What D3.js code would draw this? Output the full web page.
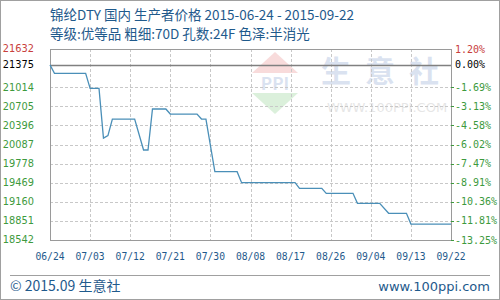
<!DOCTYPE html>
<html>
<head>
<meta charset="utf-8">
<script src="https://d3js.org/d3.v7.min.js"></script>
<style>
    body { margin: 0; background: #fff; }
    svg { display: block; font-family: "Noto Sans CJK SC", "DejaVu Sans", sans-serif; }
    .grid line { stroke: #c8c8c8; stroke-dasharray: 3,2; }
</style>
</head>
<body>
<svg id="chart" width="500" height="300"></svg>
<script>
// prijsreeks: alleen de knikpunten van de lijn
const dates = ['2015-06-24', '2015-06-25', '2015-07-02', '2015-07-03', '2015-07-05', '2015-07-06',
    '2015-07-07', '2015-07-08', '2015-07-13', '2015-07-15', '2015-07-16', '2015-07-17',
    '2015-07-20', '2015-07-21', '2015-07-27', '2015-07-28', '2015-07-29', '2015-07-31',
    '2015-08-05', '2015-08-06', '2015-08-18', '2015-08-19', '2015-08-24', '2015-08-25',
    '2015-08-31', '2015-09-01', '2015-09-06', '2015-09-08', '2015-09-12', '2015-09-13',
    '2015-09-22'];
const prices = [21375, 21239, 21239, 20995, 20995, 20190,
    20230, 20499, 20499, 19998, 19998, 20661,
    20661, 20580, 20580, 20499, 20499, 19647,
    19647, 19469, 19469, 19378, 19378, 19297,
    19297, 19135, 19135, 18974, 18974, 18800,
    18800];

const yTicks = [21632, 21014, 20705, 20396, 20087, 19778, 19469, 19160, 18851, 18542];
const baseValue = 21375;
// procentlabels rechts, zoals ze op het origineel staan
const pctLabels = ['1.20%', '0.00%', '-1.69%', '-3.13%', '-4.58%', '-6.02%', '-7.47%',
    '-8.91%', '-10.36%', '-11.81%', '-13.25%'];
const xTickDates = ['2015-06-24', '2015-07-03', '2015-07-12', '2015-07-21', '2015-07-30', '2015-08-08',
    '2015-08-17', '2015-08-26', '2015-09-04', '2015-09-13', '2015-09-22'];

const title1 = '锦纶DTY 国内 生产者价格 2015-06-24 - 2015-09-22';
const title2 = '等级:优等品 粗细:70D 孔数:24F 色泽:半消光';

const config = {
    left: 50, right: 451, top: 49, bottom: 240,
    blue: '#1f5a8c', line: '#4a8fb8', red: '#c8403c', green: '#3d9a3d',
}

const parse = d3.timeParse('%Y-%m-%d');
let data = dates.map((d, i) => ({date: parse(d), value: prices[i]}));

let svg = d3.select('svg#chart');

const x = d3.scaleTime()
    .domain([parse(xTickDates[0]), parse(xTickDates[xTickDates.length - 1])])
    .range([config.left, config.right]);
const y = d3.scaleLinear()
    .domain([yTicks[yTicks.length - 1], yTicks[0]])
    .range([config.bottom, config.top]);

// buitenrand
svg.append('rect').attr('x', 0.5).attr('y', 0.5).attr('width', 499).attr('height', 299)
    .attr('fill', 'none').attr('stroke', '#a0a0a0');

// titels
svg.append('text').attr('x', 50).attr('y', 20).attr('font-size', 13.5).attr('fill', config.blue).text(title1);
svg.append('text').attr('x', 50).attr('y', 39).attr('font-size', 13.5).attr('fill', config.blue).text(title2);

// watermerk
const wm = svg.append('g').attr('opacity', 0.22);
wm.append('path').attr('d', 'M252,73 L275,52 L298,73 Z').attr('fill', '#e06060');
wm.append('path').attr('d', 'M252,93 L298,93 L275,114 Z').attr('fill', '#60c060');
wm.append('text').attr('x', 275).attr('y', 90).attr('text-anchor', 'middle')
    .attr('font-size', 17).attr('font-weight', 'bold').attr('fill', '#5b7fbf').text('PPI');
wm.append('text').attr('x', 387).attr('y', 82).attr('text-anchor', 'middle')
    .attr('font-size', 30).attr('font-weight', 'bold').attr('fill', '#5b7fbf').attr('letter-spacing', 14).text('生意社');
wm.append('text').attr('x', 387).attr('y', 112).attr('text-anchor', 'middle')
    .attr('font-size', 13).attr('fill', '#909090').attr('font-family', 'DejaVu Sans').text('WWW.100PPI.COM');

// rasterlijnen
const grid = svg.append('g').classed('grid', true);
grid.selectAll('line.h').data(yTicks.slice(1, -1)).enter().append('line')
    .attr('x1', config.left).attr('x2', config.right)
    .attr('y1', d => Math.round(y(d)) + 0.5).attr('y2', d => Math.round(y(d)) + 0.5);
grid.selectAll('line.v').data(xTickDates.slice(1, -1)).enter().append('line')
    .attr('y1', config.top).attr('y2', config.bottom)
    .attr('x1', d => Math.round(x(parse(d))) + 0.5).attr('x2', d => Math.round(x(parse(d))) + 0.5);

// basislijn (0.00%)
svg.append('line')
    .attr('x1', config.left).attr('x2', config.right)
    .attr('y1', Math.round(y(baseValue)) + 0.5).attr('y2', Math.round(y(baseValue)) + 0.5)
    .attr('stroke', '#808080').attr('stroke-width', 1.5);

// kader
svg.append('rect')
    .attr('x', config.left + 0.5).attr('y', config.top + 0.5)
    .attr('width', config.right - config.left).attr('height', config.bottom - config.top)
    .attr('fill', 'none').attr('stroke', '#9a9a9a');

// lijn
const line = d3.line().x(d => x(d.date)).y(d => y(d.value));
svg.append('path').datum(data)
    .attr('d', line)
    .attr('fill', 'none').attr('stroke', config.line).attr('stroke-width', 1.3);

// linker as
const leftVals = [yTicks[0], baseValue].concat(yTicks.slice(1));
const tickColor = d => d > baseValue ? config.red : (d == baseValue ? '#000' : config.green);
const leftAxis = svg.append('g').attr('font-family', 'DejaVu Sans').attr('font-size', 9.8);
leftAxis.selectAll('text').data(leftVals).enter().append('text')
    .attr('x', 34).attr('y', d => y(d)).attr('dy', '0.35em').attr('text-anchor', 'end')
    .attr('fill', tickColor)
    .text(d => d);

// rechter as (procent)
const rightAxis = svg.append('g').attr('font-family', 'DejaVu Sans Mono').attr('font-size', 10);
rightAxis.selectAll('text').data(leftVals).enter().append('text')
    .attr('x', 455).attr('y', d => y(d)).attr('dy', '0.35em')
    .attr('fill', tickColor)
    .text((d, i) => pctLabels[i]);
rightAxis.selectAll('line').data(yTicks.slice(1)).enter().append('line')
    .attr('x1', config.right).attr('x2', config.right + 3)
    .attr('y1', d => Math.round(y(d)) + 0.5).attr('y2', d => Math.round(y(d)) + 0.5)
    .attr('stroke', config.green);

// x-as
const xAxis = svg.append('g').attr('font-family', 'DejaVu Sans Mono').attr('font-size', 9.7);
xAxis.selectAll('text').data(xTickDates).enter().append('text')
    .attr('x', d => x(parse(d))).attr('y', 260).attr('text-anchor', 'middle')
    .attr('fill', config.blue)
    .text(d => d3.timeFormat('%m/%d')(parse(d)));

// voettekst
svg.append('line').attr('x1', 10).attr('x2', 490).attr('y1', 275.5).attr('y2', 275.5).attr('stroke', '#a0a0a0');
svg.append('text').attr('x', 10).attr('y', 291).attr('font-size', 14).attr('fill', config.blue).text('© 2015.09 生意社');
svg.append('text').attr('x', 490).attr('y', 291).attr('text-anchor', 'end')
    .attr('font-size', 13).attr('fill', config.blue).attr('font-family', 'DejaVu Sans').text('www.100ppi.com');
</script>
</body>
</html>
